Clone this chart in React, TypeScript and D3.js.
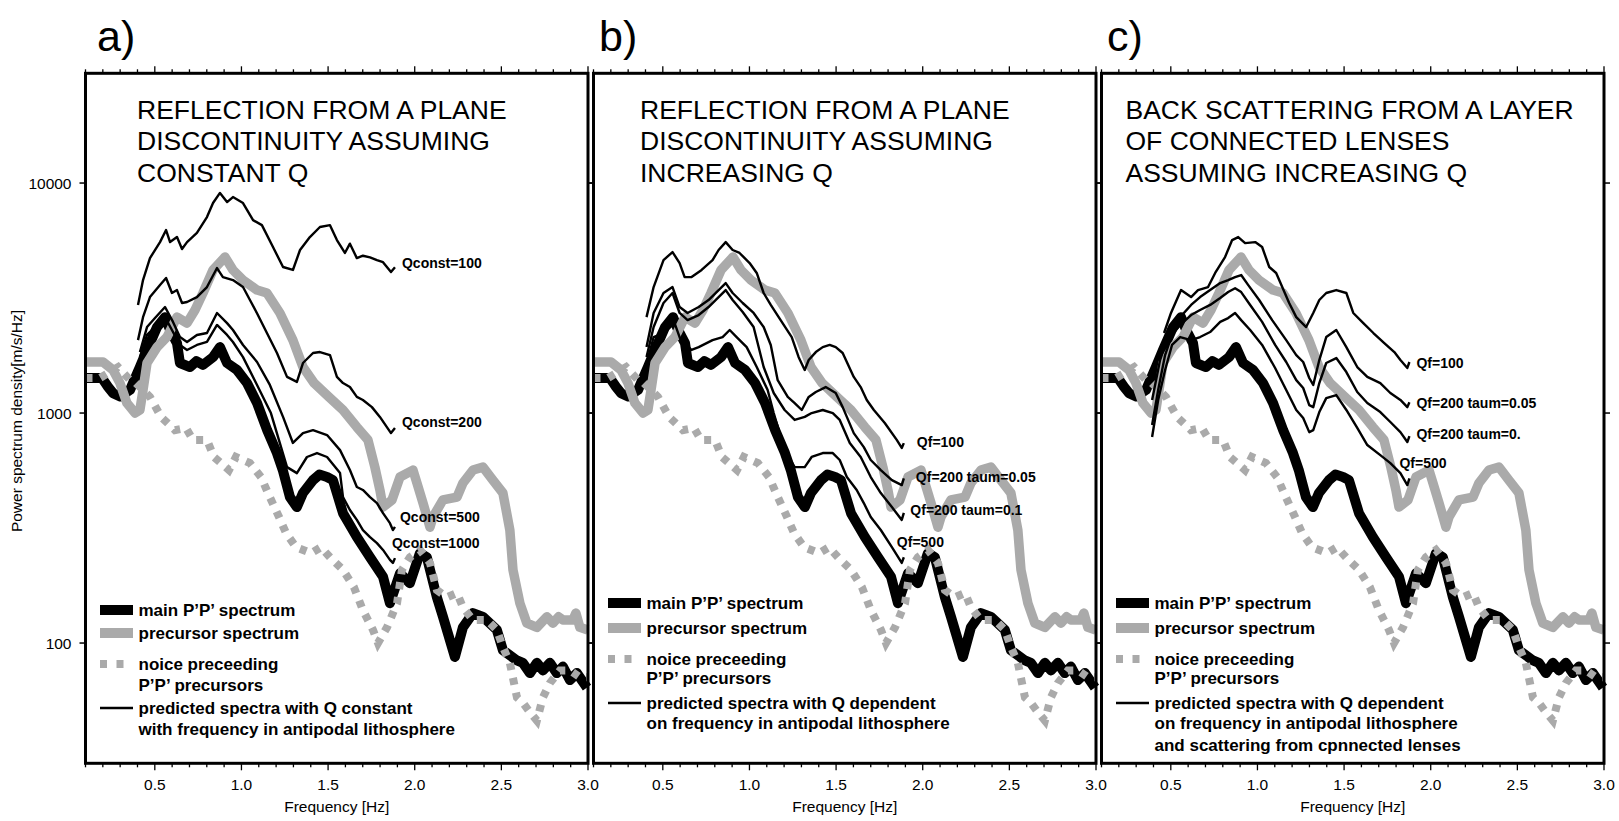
import React from "react";
import * as d3 from "d3";

type Pt = [number, number];

// observed spectra (same in every panel): [frequency Hz, power]
const mainSpectrum: Pt[] = [
  [0.1, 1420], [0.195, 1420], [0.23, 1300], [0.259, 1220], [0.3, 1180], [0.357, 1260], [0.374, 1350],
  [0.414, 1585], [0.455, 1880], [0.513, 2365], [0.559, 2610], [0.588, 2300], [0.628, 2015], [0.645, 1650],
  [0.703, 1585], [0.74, 1680], [0.778, 1620], [0.836, 1750], [0.876, 1935], [0.917, 1650], [0.974, 1540],
  [1.032, 1350], [1.09, 1105], [1.148, 843], [1.205, 670], [1.24, 560], [1.28, 431], [1.32, 390],
  [1.355, 449], [1.413, 511], [1.45, 540], [1.494, 527], [1.528, 511], [1.586, 367], [1.666, 289],
  [1.742, 236], [1.817, 194], [1.857, 149], [1.915, 201], [1.972, 182], [2.03, 246], [2.07, 236],
  [2.128, 158], [2.163, 130], [2.232, 87], [2.278, 117], [2.336, 135], [2.394, 130], [2.474, 114],
  [2.509, 93], [2.59, 84], [2.624, 82], [2.665, 74], [2.705, 82], [2.74, 76], [2.78, 82], [2.82, 74],
  [2.855, 79], [2.896, 69], [2.936, 74], [2.994, 64],
];

const precursorSpectrum: Pt[] = [
  [0.1, 1667], [0.201, 1667], [0.259, 1538], [0.299, 1349], [0.339, 1105], [0.386, 1000], [0.414, 1031],
  [0.432, 1259], [0.455, 1650], [0.513, 1935], [0.57, 2140], [0.628, 2612], [0.686, 2460], [0.732, 2805],
  [0.778, 3326], [0.836, 4188], [0.905, 4765], [0.951, 4188], [1.009, 3785], [1.09, 3425], [1.147, 3326],
  [1.222, 2723], [1.297, 2075], [1.355, 1585], [1.419, 1350], [1.505, 1175], [1.586, 1031], [1.666, 869],
  [1.73, 764], [1.77, 582], [1.799, 463], [1.817, 390], [1.869, 419], [1.915, 527], [1.99, 565], [2.013, 496],
  [2.048, 406], [2.088, 319], [2.105, 353], [2.163, 419], [2.244, 431], [2.278, 496], [2.336, 565],
  [2.394, 582], [2.451, 511], [2.509, 449], [2.549, 310], [2.567, 208], [2.607, 149], [2.647, 122],
  [2.705, 117], [2.763, 130], [2.798, 122], [2.83, 130], [2.855, 126], [2.913, 126], [2.93, 135],
  [2.953, 117], [2.999, 114],
];

const noiseSpectrum: Pt[] = [
  [0.1, 1420], [0.184, 1420], [0.288, 1585], [0.357, 1390], [0.391, 1350], [0.472, 1175], [0.536, 962],
  [0.616, 843], [0.68, 861], [0.72, 764], [0.801, 764], [0.841, 644], [0.928, 565], [0.968, 644],
  [1.049, 606], [1.113, 527], [1.153, 449], [1.217, 353], [1.257, 301], [1.315, 261], [1.402, 246],
  [1.459, 261], [1.511, 236], [1.586, 208], [1.649, 175], [1.701, 139], [1.759, 114], [1.788, 100],
  [1.84, 117], [1.898, 149], [1.926, 208], [1.972, 236], [2.03, 254], [2.088, 223], [2.128, 170],
  [2.186, 158], [2.244, 165], [2.278, 143], [2.336, 126], [2.417, 126], [2.474, 114], [2.509, 96],
  [2.549, 82], [2.59, 58], [2.624, 55], [2.665, 50], [2.705, 46], [2.74, 58], [2.78, 67], [2.838, 76],
  [2.896, 76], [2.953, 71], [2.999, 71],
];

// panel a: constant Q
const qConst100: Pt[] = [
  [0.403, 2951], [0.432, 3785], [0.472, 4716], [0.53, 5537], [0.565, 6245], [0.588, 5537], [0.628, 5823],
  [0.657, 5163], [0.686, 5537], [0.743, 6068], [0.801, 7115], [0.836, 8185], [0.876, 9057], [0.917, 8266],
  [0.951, 8690], [1.009, 8185], [1.067, 6900], [1.118, 6560], [1.182, 5270], [1.24, 4315], [1.297, 4188],
  [1.338, 5115], [1.395, 5823], [1.453, 6440], [1.511, 6560], [1.551, 5650], [1.597, 4965], [1.626, 5450],
  [1.666, 4716], [1.701, 4830], [1.742, 4750], [1.782, 4620], [1.817, 4530], [1.863, 4100], [1.886, 4300],
];
const qConst200: Pt[] = [
  [0.403, 2075], [0.432, 2612], [0.472, 3193], [0.53, 3606], [0.565, 3866], [0.599, 3326], [0.628, 3425],
  [0.657, 3009], [0.686, 3040], [0.743, 3193], [0.801, 3530], [0.859, 4270], [0.893, 3900], [0.951, 3785],
  [1.009, 3530], [1.049, 3100], [1.089, 2723], [1.147, 2228], [1.205, 1824], [1.263, 1436], [1.32, 1366],
  [1.355, 1650], [1.413, 1824], [1.453, 1842], [1.511, 1785], [1.551, 1436], [1.586, 1350], [1.626, 1297],
  [1.666, 1175], [1.701, 1140], [1.753, 1061], [1.799, 962], [1.863, 818], [1.886, 860],
];
const qConst500: Pt[] = [
  [0.414, 1841], [0.455, 2365], [0.501, 2588], [0.559, 2890], [0.605, 2490], [0.645, 2140], [0.686, 2037],
  [0.743, 2185], [0.801, 2228], [0.859, 2723], [0.917, 2460], [0.951, 2296], [1.009, 1977], [1.09, 1667],
  [1.164, 1325], [1.24, 962], [1.297, 741], [1.355, 818], [1.413, 843], [1.494, 802], [1.569, 690],
  [1.626, 565], [1.666, 477], [1.701, 463], [1.742, 431], [1.782, 406], [1.817, 367], [1.857, 332],
  [1.874, 310], [1.886, 320],
];
const qConst1000: Pt[] = [
  [0.414, 1750], [0.455, 2185], [0.501, 2365], [0.559, 2612], [0.605, 2250], [0.645, 1977], [0.686, 1880],
  [0.743, 1977], [0.801, 2037], [0.859, 2415], [0.917, 2185], [0.951, 2037], [1.009, 1750], [1.09, 1325],
  [1.17, 1000], [1.263, 582], [1.32, 548], [1.378, 644], [1.436, 670], [1.494, 644], [1.569, 548],
  [1.586, 431], [1.626, 379], [1.666, 343], [1.701, 310], [1.742, 289], [1.782, 272], [1.817, 254],
  [1.857, 230], [1.874, 223], [1.886, 234],
];

// panel b: frequency dependent Q
const qfB100: Pt[] = [
  [0.406, 2612], [0.447, 3530], [0.504, 4620], [0.556, 5012], [0.597, 4488], [0.626, 3900], [0.666, 3900],
  [0.724, 4188], [0.787, 4620], [0.822, 5115], [0.863, 5537], [0.903, 5115], [0.943, 4965], [1.001, 4488],
  [1.042, 4064], [1.082, 3326], [1.123, 2951], [1.18, 2535], [1.244, 2140], [1.284, 1750], [1.319, 1538],
  [1.342, 1700], [1.383, 1841], [1.423, 1935], [1.463, 1977], [1.498, 1935], [1.538, 1824], [1.602, 1436],
  [1.642, 1297], [1.677, 1140], [1.718, 1031], [1.781, 905], [1.85, 764], [1.879, 705], [1.891, 740],
];
const qfB200t005: Pt[] = [
  [0.406, 1935], [0.447, 2723], [0.504, 3326], [0.556, 3530], [0.597, 2890], [0.643, 2723], [0.707, 2890],
  [0.764, 3100], [0.822, 3425], [0.863, 3672], [0.903, 3326], [0.961, 3009], [1.024, 2723], [1.082, 2365],
  [1.123, 1977], [1.163, 1390], [1.221, 1175], [1.261, 1105], [1.302, 1031], [1.342, 1175], [1.383, 1234],
  [1.44, 1297], [1.498, 1222], [1.538, 1061], [1.602, 818], [1.66, 711], [1.7, 625], [1.758, 565],
  [1.822, 511], [1.879, 486], [1.891, 520],
];
const qfB200t01: Pt[] = [
  [0.406, 1750], [0.447, 2365], [0.504, 3009], [0.556, 3326], [0.597, 2723], [0.643, 2535], [0.707, 2667],
  [0.764, 2890], [0.822, 3193], [0.863, 3425], [0.903, 3100], [0.961, 2750], [1.024, 2365], [1.082, 1585],
  [1.14, 1222], [1.203, 1031], [1.261, 933], [1.319, 962], [1.359, 1000], [1.423, 1031], [1.481, 1000],
  [1.521, 933], [1.579, 741], [1.642, 644], [1.7, 527], [1.758, 449], [1.822, 390], [1.879, 343],
  [1.891, 368],
];
const qfB500: Pt[] = [
  [0.406, 1620], [0.447, 2140], [0.504, 2228], [0.568, 2460], [0.603, 2075], [0.666, 1880], [0.707, 1935],
  [0.787, 2075], [0.845, 2140], [0.886, 2296], [0.926, 2140], [0.984, 1935], [1.042, 1585], [1.105, 1259],
  [1.14, 1000], [1.203, 690], [1.261, 582], [1.319, 582], [1.359, 644], [1.423, 670], [1.481, 670],
  [1.521, 625], [1.562, 527], [1.619, 463], [1.66, 406], [1.7, 353], [1.758, 310], [1.822, 261],
  [1.879, 223], [1.891, 236],
];

// panel c: frequency dependent Q + scattering from connected lenses
const qfC100: Pt[] = [
  [0.461, 2228], [0.501, 2723], [0.559, 3425], [0.617, 3193], [0.657, 3425], [0.715, 3530], [0.756, 4064],
  [0.813, 4765], [0.854, 5650], [0.889, 5823], [0.929, 5480], [0.987, 5537], [1.027, 5270], [1.068, 4315],
  [1.108, 4064], [1.143, 3530], [1.183, 3009], [1.224, 2612], [1.281, 2365], [1.322, 2723], [1.357, 3100],
  [1.397, 3326], [1.455, 3425], [1.513, 3326], [1.553, 2723], [1.611, 2460], [1.669, 2228], [1.732, 2015],
  [1.79, 1841], [1.825, 1700], [1.865, 1570], [1.877, 1667],
];
const qfC200t005: Pt[] = [
  [0.392, 1140], [0.438, 1700], [0.496, 2296], [0.554, 2612], [0.617, 2951], [0.669, 3193], [0.727, 3425],
  [0.785, 3672], [0.831, 3785], [0.871, 3900], [0.906, 3981], [0.946, 3606], [1.01, 3100], [1.085, 2535],
  [1.166, 2075], [1.224, 1786], [1.264, 1667], [1.299, 1420], [1.322, 1325], [1.357, 1700], [1.397, 2140],
  [1.455, 2296], [1.513, 1935], [1.576, 1585], [1.634, 1436], [1.709, 1350], [1.767, 1222], [1.825, 1140],
  [1.865, 1061], [1.877, 1115],
];
const qfC200t0: Pt[] = [
  [0.392, 887], [0.427, 1259], [0.467, 1786], [0.507, 2185], [0.554, 2415], [0.617, 2667], [0.669, 2805],
  [0.727, 2951], [0.785, 3162], [0.831, 3357], [0.871, 3490], [0.906, 3357], [0.958, 2951], [1.027, 2490],
  [1.102, 1977], [1.166, 1667], [1.224, 1390], [1.264, 1285], [1.299, 1083], [1.322, 1061], [1.357, 1350],
  [1.397, 1650], [1.455, 1734], [1.513, 1507], [1.576, 1234], [1.634, 1105], [1.709, 1010], [1.767, 914],
  [1.825, 826], [1.865, 748], [1.877, 794],
];
const qfC500: Pt[] = [
  [0.392, 787], [0.427, 1140], [0.467, 1538], [0.507, 1977], [0.554, 2140], [0.617, 2075], [0.669, 2140],
  [0.727, 2250], [0.785, 2490], [0.831, 2588], [0.871, 2723], [0.906, 2535], [0.958, 2296], [1.027, 1977],
  [1.102, 1570], [1.166, 1259], [1.224, 1031], [1.264, 951], [1.299, 826], [1.322, 843], [1.357, 1010],
  [1.397, 1161], [1.455, 1197], [1.513, 1031], [1.576, 861], [1.634, 726], [1.709, 656], [1.767, 606],
  [1.825, 548], [1.865, 486], [1.877, 520],
];

const panelLetters = ["a)", "b)", "c)"];
const panelTitles = [
  ["REFLECTION FROM A PLANE", "DISCONTINUITY ASSUMING", "CONSTANT Q"],
  ["REFLECTION FROM A PLANE", "DISCONTINUITY ASSUMING", "INCREASING Q"],
  ["BACK SCATTERING FROM A LAYER", "OF CONNECTED LENSES", "ASSUMING INCREASING Q"],
];
const predictedSeries = [
  [qConst100, qConst200, qConst500, qConst1000],
  [qfB100, qfB200t005, qfB200t01, qfB500],
  [qfC100, qfC200t005, qfC200t0, qfC500],
];
const predictedLabels = [
  ["Qconst=100", "Qconst=200", "Qconst=500", "Qconst=1000"],
  ["Qf=100", "Qf=200 taum=0.05", "Qf=200 taum=0.1", "Qf=500"],
  ["Qf=100", "Qf=200 taum=0.05", "Qf=200 taum=0.", "Qf=500"],
];
const predictedLegend = [
  ["predicted spectra with Q constant", "with frequency in antipodal lithosphere"],
  ["predicted spectra with Q dependent", "on frequency in antipodal lithosphere"],
  ["predicted spectra with Q dependent", "on frequency in antipodal lithosphere", "and scattering from cpnnected lenses"],
];
const xTickLabels = ["0.5", "1.0", "1.5", "2.0", "2.5", "3.0"];
const yTicks = [100, 1000, 10000];

const W = 1619;
const H = 821;
const panelLeft = [85.5, 593.5, 1101.5];
const panelW = 502.5;
const top = 73.3;
const bottom = 763.3;
const font = "'Liberation Sans', Arial, Helvetica, sans-serif";
const grey = "#aaaaaa";

// label offsets from the end of each predicted curve
const labelOffsets = [
  [[7, -4], [7, -6], [5, -10], [-3, -15]],
  [[13, -1], [12, -1], [6.5, -3], [-7, -15]],
  [[7, 1], [7, 1], [7, -2], [-10, -15]],
];
const legendRows = [
  [610, 633, 664, 685, 708, 729],
  [603, 628, 659, 678, 703, 723, 745],
  [603, 628, 659, 678, 703, 723, 745],
];
const titleX = [137, 640, 1125.5];
const letterX = [97, 599, 1107];

function Panel({ i }: { i: number }) {
  const left = panelLeft[i];
  const x = d3.scaleLinear().domain([0.1, 3.0]).range([left, left + panelW]);
  const y = d3.scaleLog().domain([30, 30000]).range([bottom, top]);
  const line = d3
    .line<Pt>()
    .x((d) => x(d[0]))
    .y((d) => y(d[1]));

  const ticks = d3.range(1, 31).map((k) => ({ f: k / 10, major: k % 5 === 0 }));
  const rows = legendRows[i];
  const sx0 = left + 14.5;
  const sx1 = left + 47.5;
  const tx = left + 53;

  return (
    <g>
      <text x={letterX[i]} y={51} fontSize={43} fontFamily={font}>
        {panelLetters[i]}
      </text>

      {/* titles */}
      {panelTitles[i].map((t, k) => (
        <text key={k} x={titleX[i]} y={118.5 + k * 31.7} fontSize={26.5} fontFamily={font}>
          {t}
        </text>
      ))}

      {/* observed spectra */}
      <path d={line(mainSpectrum) || ""} fill="none" stroke="#000" strokeWidth={10} strokeLinejoin="round" />
      <path d={line(precursorSpectrum) || ""} fill="none" stroke={grey} strokeWidth={9.5} strokeLinejoin="round" />
      <path d={line(noiseSpectrum) || ""} fill="none" stroke={grey} strokeWidth={8} strokeDasharray="7 8" />

      {/* predicted */}
      {predictedSeries[i].map((s, k) => (
        <path key={k} d={line(s) || ""} fill="none" stroke="#000" strokeWidth={2.4} strokeLinejoin="round" />
      ))}
      {predictedSeries[i].map((s, k) => {
        const last = s[s.length - 1];
        const [dx, dy] = labelOffsets[i][k];
        return (
          <text
            key={k}
            x={x(last[0]) + dx}
            y={y(last[1]) + dy}
            fontSize={14}
            fontWeight="bold"
            fontFamily={font}
            dominantBaseline="central"
          >
            {predictedLabels[i][k]}
          </text>
        );
      })}

      {/* legend */}
      <line x1={sx0} x2={sx1} y1={rows[0]} y2={rows[0]} stroke="#000" strokeWidth={10} />
      <line x1={sx0} x2={sx1} y1={rows[1]} y2={rows[1]} stroke={grey} strokeWidth={10} />
      <line x1={sx0} x2={sx1} y1={rows[2]} y2={rows[2]} stroke={grey} strokeWidth={8} strokeDasharray="7 9.5" />
      <line x1={sx0} x2={sx1} y1={rows[4]} y2={rows[4]} stroke="#000" strokeWidth={2.4} />
      {["main P\u2019P\u2019 spectrum", "precursor spectrum", "noice preceeding", "P\u2019P\u2019 precursors", ...predictedLegend[i]].map(
        (t, k) => (
          <text
            key={k}
            x={tx}
            y={rows[k]}
            fontSize={17}
            fontWeight="bold"
            fontFamily={font}
            dominantBaseline="central"
          >
            {t}
          </text>
        )
      )}

      {/* frame */}
      <rect x={left} y={top} width={panelW} height={bottom - top} fill="none" stroke="#000" strokeWidth={3} />

      {/* x ticks top and bottom */}
      {ticks.map((t, k) => (
        <g key={k}>
          <line x1={x(t.f)} x2={x(t.f)} y1={top} y2={top - (t.major ? 7 : 4)} stroke="#000" strokeWidth={1.3} />
          <line x1={x(t.f)} x2={x(t.f)} y1={bottom} y2={bottom + (t.major ? 7 : 4)} stroke="#000" strokeWidth={1.3} />
        </g>
      ))}
      {xTickLabels.map((lab) => (
        <text
          key={lab}
          x={x(+lab)}
          y={790}
          fontSize={15.5}
          fontFamily={font}
          textAnchor="middle"
        >
          {lab}
        </text>
      ))}
      <text x={left + panelW / 2} y={812} fontSize={15.5} fontFamily={font} textAnchor="middle">
        Frequency [Hz]
      </text>

      {/* y ticks on both sides */}
      {yTicks.map((v) => (
        <g key={v}>
          <line x1={left} x2={left - 6} y1={y(v)} y2={y(v)} stroke="#000" strokeWidth={1.5} />
          <line x1={left + panelW} x2={left + panelW + 6} y1={y(v)} y2={y(v)} stroke="#000" strokeWidth={1.5} />
          {i === 0 && (
            <text
              x={left - 14}
              y={y(v)}
              fontSize={15.5}
              fontFamily={font}
              textAnchor="end"
              dominantBaseline="central"
            >
              {v}
            </text>
          )}
        </g>
      ))}
    </g>
  );
}

export default function App() {
  return (
    <svg
      width={W}
      height={H}
      style={{ position: "absolute", left: 0, top: 0, background: "#fff" }}
    >
      <rect width={W} height={H} fill="#fff" />
      {[0, 1, 2].map((i) => (
        <Panel key={i} i={i} />
      ))}
      <text
        transform={`translate(22,421) rotate(-90)`}
        fontSize={15.5}
        fontFamily={font}
        textAnchor="middle"
      >
        Power spectrum density[m/s/Hz]
      </text>
    </svg>
  );
}
